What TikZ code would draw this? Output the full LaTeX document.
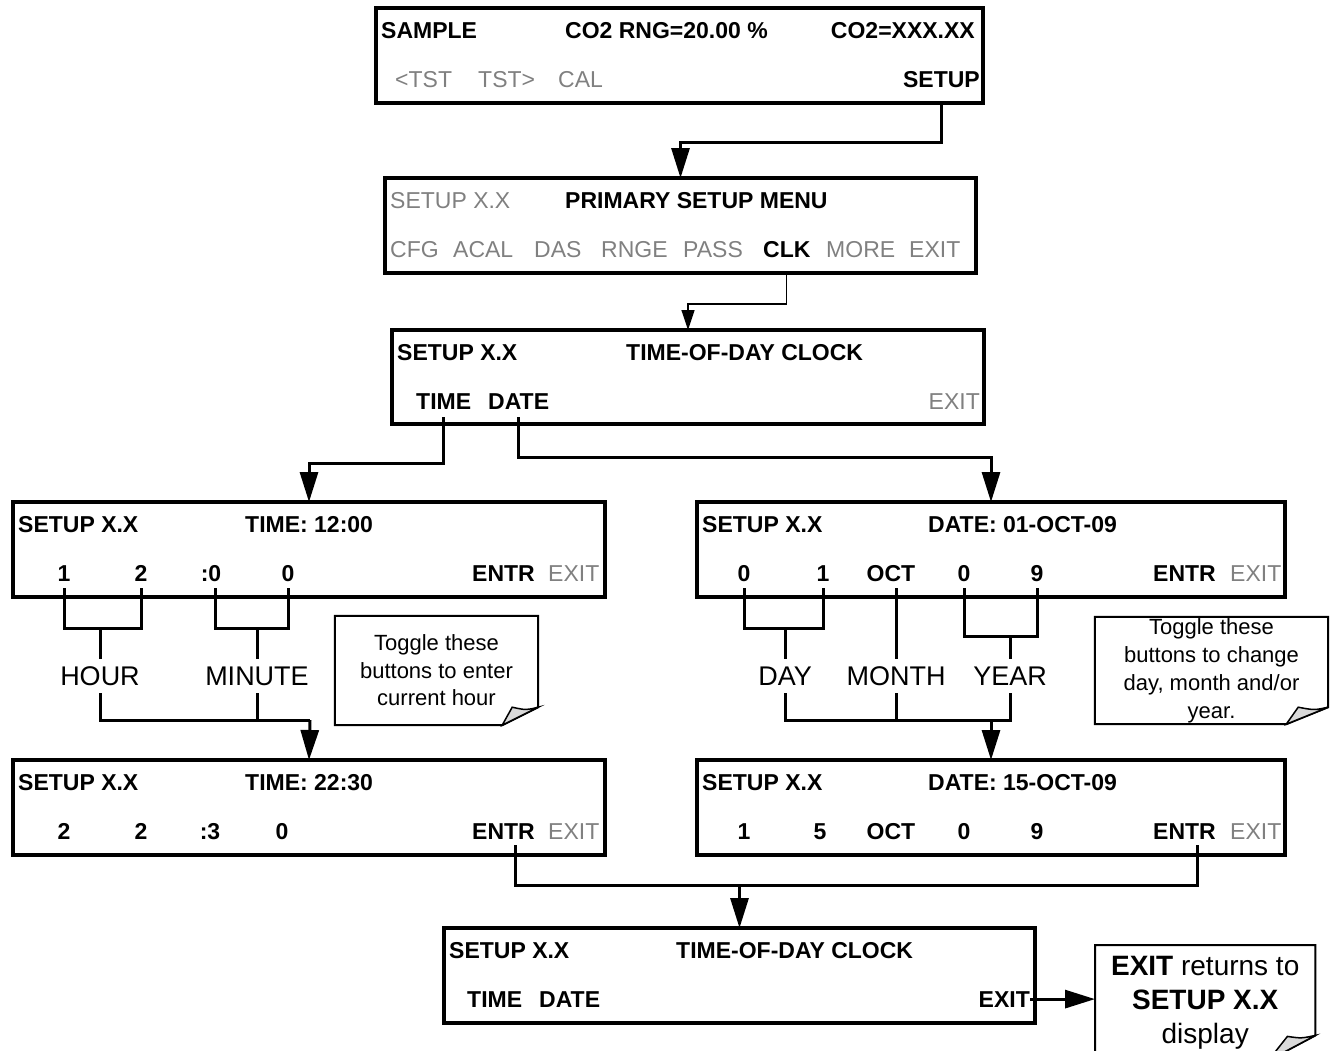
\documentclass[tikz,border=0pt]{standalone}
\usepackage{fontspec}
\setmainfont{Liberation Sans}
\usetikzlibrary{arrows.meta}

\tikzset{
  pantalla/.style={draw, line width=3.5pt, anchor=north west, inner sep=0pt, outer sep=0pt, minimum height=95pt},
  negro/.style={font=\fontsize{23}{27}\selectfont\bfseries, inner sep=0pt, anchor=base west},
  gris/.style={font=\fontsize{23}{27}\selectfont, text=black!50, inner sep=0pt, anchor=base west},
  cifra/.style={negro, anchor=base},
  rotulo/.style={font=\fontsize{27}{32}\selectfont, inner sep=0pt, minimum height=34pt},
  nota/.style={font=\fontsize{22}{27.5}\selectfont, align=center, inner sep=0pt},
  borde/.style={line width=2pt},
  pliegue/.style={line width=1.5pt, fill=black!15},
  linea/.style={line width=3pt},
  fina/.style={line width=1.3pt, -{Triangle[length=20pt,width=13pt]}},
  flecha/.style={line width=3pt, -{Triangle[length=30pt,width=18pt]}},
}

\begin{document}
\begin{tikzpicture}[x=1pt,y=-1pt]
    \useasboundingbox (0,0) rectangle (1337,1050);

    % pantalla de muestra
    \node[pantalla, minimum width=607pt] (pSample) at (376,8) {};
    \node[negro] (sample) at (381,38) {SAMPLE};
    \node[negro] (rango) at (565,38) {CO2 RNG=20.00 \%};
    \node[negro, anchor=base east] (conc) at (975,38) {CO2=XXX.XX};
    \node[gris] (tstA) at (395,87) {<TST};
    \node[gris] (tstB) at (478,87) {TST>};
    \node[gris] (cal) at (558,87) {CAL};
    \node[negro, anchor=base east] (setup) at (980,87) {SETUP};

    % menu primario
    \node[pantalla, minimum width=591pt] (pMenu) at (385,178) {};
    \node[gris] (mSetup) at (390,208) {SETUP X.X};
    \node[negro] (mTitulo) at (565,208) {PRIMARY SETUP MENU};
    \node[gris] (cfg) at (390,257) {CFG};
    \node[gris] (acal) at (453,257) {ACAL};
    \node[gris] (das) at (534,257) {DAS};
    \node[gris] (rnge) at (601,257) {RNGE};
    \node[gris] (pass) at (683,257) {PASS};
    \node[negro] (clk) at (763,257) {CLK};
    \node[gris] (more) at (826,257) {MORE};
    \node[gris] (mExit) at (909,257) {EXIT};

    % reloj
    \node[pantalla, minimum width=592pt, minimum height=94pt] (pReloj) at (392,330) {};
    \node[negro] (rSetup) at (397,360) {SETUP X.X};
    \node[negro] (rTitulo) at (626,360) {TIME-OF-DAY CLOCK};
    \node[negro] (hTime) at (416,409) {TIME};
    \node[negro] (hDate) at (488,409) {DATE};
    \node[gris, anchor=base east] (rExit) at (980,409) {EXIT};

    % hora 12:00
    \node[pantalla, minimum width=592pt] (pHoraA) at (13,502) {};
    \node[negro] (aSetup) at (18,532) {SETUP X.X};
    \node[negro] (aTitulo) at (245,532) {TIME: 12:00};
    \node[cifra] (a1) at (64,581) {1};
    \node[cifra] (a2) at (141,581) {2};
    \node[cifra] (a3) at (211,581) {:0};
    \node[cifra] (a4) at (288,581) {0};
    \node[negro] (aEntr) at (472,581) {ENTR};
    \node[gris] (aExit) at (548,581) {EXIT};

    % hora 22:30
    \node[pantalla, minimum width=592pt] (pHoraB) at (13,760) {};
    \node[negro] (bSetup) at (18,790) {SETUP X.X};
    \node[negro] (bTitulo) at (245,790) {TIME: 22:30};
    \node[cifra] (b1) at (64,839) {2};
    \node[cifra] (b2) at (141,839) {2};
    \node[cifra] (b3) at (210,839) {:3};
    \node[cifra] (b4) at (282,839) {0};
    \node[negro] (bEntr) at (472,839) {ENTR};
    \node[gris] (bExit) at (548,839) {EXIT};

    % fecha 01-OCT-09
    \node[pantalla, minimum width=588pt] (pFechaA) at (697,502) {};
    \node[negro] (cSetup) at (702,532) {SETUP X.X};
    \node[negro] (cTitulo) at (928,532) {DATE: 01-OCT-09};
    \node[cifra] (c1) at (744,581) {0};
    \node[cifra] (c2) at (823,581) {1};
    \node[cifra] (c3) at (891,581) {OCT};
    \node[cifra] (c4) at (964,581) {0};
    \node[cifra] (c5) at (1037,581) {9};
    \node[negro] (cEntr) at (1153,581) {ENTR};
    \node[gris] (cExit) at (1230,581) {EXIT};

    % fecha 15-OCT-09
    \node[pantalla, minimum width=588pt] (pFechaB) at (697,760) {};
    \node[negro] (dSetup) at (702,790) {SETUP X.X};
    \node[negro] (dTitulo) at (928,790) {DATE: 15-OCT-09};
    \node[cifra] (d1) at (744,839) {1};
    \node[cifra] (d2) at (820,839) {5};
    \node[cifra] (d3) at (891,839) {OCT};
    \node[cifra] (d4) at (964,839) {0};
    \node[cifra] (d5) at (1037,839) {9};
    \node[negro] (dEntr) at (1153,839) {ENTR};
    \node[gris] (dExit) at (1230,839) {EXIT};

    % reloj final
    \node[pantalla, minimum width=591pt] (pFin) at (444,928) {};
    \node[negro] (fSetup) at (449,958) {SETUP X.X};
    \node[negro] (fTitulo) at (676,958) {TIME-OF-DAY CLOCK};
    \node[negro] (fTime) at (467,1007) {TIME};
    \node[negro] (fDate) at (539,1007) {DATE};
    \node[negro, anchor=base east] (fExit) at (1030,1007) {EXIT};

    % rotulos
    \node[rotulo] (hora) at (100,676) {HOUR};
    \node[rotulo] (minuto) at (257,676) {MINUTE};
    \node[rotulo] (dia) at (785,676) {DAY};
    \node[rotulo] (mes) at (896,676) {MONTH};
    \node[rotulo] (anio) at (1010,676) {YEAR};

    % notas
    \node[nota, minimum width=203pt, minimum height=109pt] (notaHora) at (436.5,670.5) {Toggle these\\buttons to enter\\current hour};
    \draw[borde] (notaHora.north west) -- (notaHora.north east) -- ([yshift=18pt]notaHora.south east) -- ([xshift=-36pt]notaHora.south east) -- (notaHora.south west) -- cycle;
    \filldraw[pliegue] ([yshift=18pt]notaHora.south east) .. controls ([xshift=-12pt,yshift=15pt]notaHora.south east) .. ([xshift=-26pt,yshift=18pt]notaHora.south east) -- ([xshift=-36pt]notaHora.south east) -- cycle;

    \node[nota, font=\fontsize{22}{28}\selectfont, minimum width=233pt, minimum height=107pt] (notaFecha) at (1211.5,670.5) {Toggle these\\buttons to change\\day, month and/or\\year.};
    \draw[borde] (notaFecha.north west) -- (notaFecha.north east) -- ([yshift=17pt]notaFecha.south east) -- ([xshift=-42pt]notaFecha.south east) -- (notaFecha.south west) -- cycle;
    \filldraw[pliegue] ([yshift=17pt]notaFecha.south east) .. controls ([xshift=-14pt,yshift=14pt]notaFecha.south east) .. ([xshift=-30pt,yshift=17pt]notaFecha.south east) -- ([xshift=-42pt]notaFecha.south east) -- cycle;

    \node[nota, font=\fontsize{28}{34}\selectfont, minimum width=220pt, minimum height=115pt, anchor=north west] (notaSalida) at (1095,945) {\textbf{EXIT} returns to\\\textbf{SETUP X.X}\\display};
    \draw[borde] (notaSalida.north west) -- (notaSalida.north east) -- ([yshift=25pt]notaSalida.south east) -- ([xshift=-47pt]notaSalida.south east) -- (notaSalida.south west) -- cycle;
    \filldraw[pliegue] ([yshift=25pt]notaSalida.south east) .. controls ([xshift=-14pt,yshift=22pt]notaSalida.south east) .. ([xshift=-28pt,yshift=24pt]notaSalida.south east) -- ([xshift=-47pt]notaSalida.south east) -- cycle;

    % conexiones de menus
    \draw[flecha] (pSample.south -| setup) -- ++(0,39) -| (pMenu.north);
    \draw[fina] (pMenu.south -| clk) -- ++(0,31) -| (pReloj.north);
    \draw[flecha] ([yshift=-8pt]hTime.south) -- ++(0,46) -| (pHoraA.north);
    \draw[flecha] ([yshift=-8pt]hDate.south) -- ++(0,40) -| (pFechaA.north);

    % llaves de la hora
    \draw[linea] ([yshift=-7pt]a1.south) -- ++(0,40) -| ([yshift=-7pt]a2.south);
    \draw[linea] ([xshift=4pt,yshift=-7pt]a3.south) -- ++(0,40) -| ([yshift=-7pt]a4.south);
    \draw[linea] (hora.north) -- ++(0,-31);
    \draw[linea] (minuto.north) -- ++(0,-31);
    \coordinate (uneHora) at (310,720);
    \draw[linea] (hora.south) |- (uneHora);
    \draw[linea] (minuto.south) |- (uneHora);
    \draw[flecha] (uneHora) -- (pHoraB.north);

    % llaves de la fecha
    \draw[linea] ([yshift=-7pt]c1.south) -- ++(0,40) -| ([yshift=-7pt]c2.south);
    \draw[linea] ([yshift=-7pt]c4.south) -- ++(0,48) -| ([yshift=-7pt]c5.south);
    \draw[linea] (dia.north) -- ++(0,-31);
    \draw[linea] (mes.north) -- ++(0,-71);
    \draw[linea] (anio.north) -- ++(0,-23);
    \coordinate (uneFecha) at (991,720);
    \draw[linea] (dia.south) |- (uneFecha);
    \draw[linea] (anio.south) |- (uneFecha);
    \draw[linea] (mes.south) -- ++(0,27);
    \draw[flecha] (uneFecha) -- (pFechaB.north);

    % vuelta al reloj
    \draw[linea] ([xshift=12pt,yshift=-6pt]bEntr.south) -- ++(0,40) -| ([xshift=13pt,yshift=-6pt]dEntr.south);
    \draw[flecha] ([yshift=43pt]pFin.north) -- (pFin.north);
    \draw[flecha] (fExit.east) -- (notaSalida.west |- fExit.east);

\end{tikzpicture}
\end{document}
